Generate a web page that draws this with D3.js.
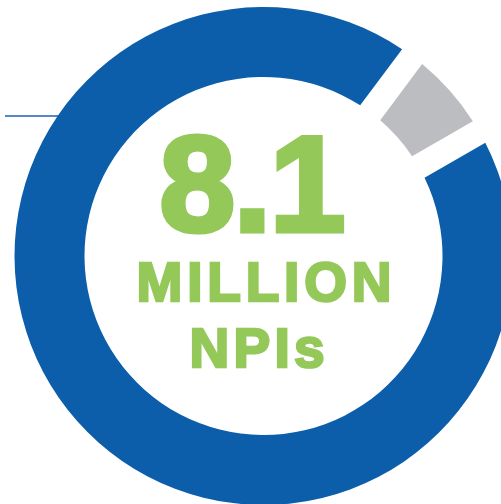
<!DOCTYPE html>
<html>
<head>
<meta charset="utf-8">
<script src="https://cdn.jsdelivr.net/npm/d3@7"></script>
<style>
  html, body { margin: 0; padding: 0; background: #fff; overflow: hidden; }
  svg { display: block; }
</style>
</head>
<body>
<div id="chart"></div>
<script>
// donut slices (share of ring, percent)
const categories = ["Other", "NPIs"];
const values = [6.5, 93.5];
const colors = ["#bcbdc0", "#0c5eab"];

// center labels
const bigNumber = "8.1";
const labelLines = ["MILLION", "NPIs"];

const width = 501;
const height = 504;
const cx = 263.5;
const cy = 256;
const outerR = 249;
const innerR = 179;
const green = "#94c858";

const svg = d3.select("#chart")
  .append("svg")
  .attr("width", width)
  .attr("height", height);

// little leader line on the left
svg.append("line")
  .attr("x1", 5)
  .attr("x2", 62)
  .attr("y1", 116)
  .attr("y2", 116)
  .attr("stroke", "#1d63b5")
  .attr("stroke-width", 1.6);

const start = 36.7 * Math.PI / 180;
const pie = d3.pie()
  .sort(null)
  .value(d => d)
  .startAngle(start)
  .endAngle(start + 2 * Math.PI);

const arc = d3.arc()
  .innerRadius(innerR)
  .outerRadius(outerR)
  .padRadius(306)
  .padAngle(25 / 306);

const g = svg.append("g")
  .attr("transform", `translate(${cx},${cy})`);

g.selectAll("path")
  .data(pie(values))
  .enter()
  .append("path")
  .attr("d", arc)
  .attr("fill", (d, i) => colors[i]);

// texts
svg.append("text")
  .attr("x", 252.5)
  .attr("y", 231)
  .attr("text-anchor", "middle")
  .attr("font-family", "Liberation Sans, Arial, sans-serif")
  .attr("font-weight", "bold")
  .attr("font-size", 136)
  .attr("fill", green)
  .attr("stroke", green)
  .attr("stroke-width", 5)
  .attr("stroke-linejoin", "miter")
  .attr("textLength", 186)
  .attr("lengthAdjust", "spacing")
  .text(bigNumber);

const lineY = [301, 367];
const lineX = [264, 257];
const lineW = [255, 135];

svg.selectAll(".lbl")
  .data(labelLines)
  .enter()
  .append("text")
  .attr("class", "lbl")
  .attr("x", (d, i) => lineX[i])
  .attr("y", (d, i) => lineY[i])
  .attr("text-anchor", "middle")
  .attr("font-family", "Liberation Sans, Arial, sans-serif")
  .attr("font-weight", "bold")
  .attr("font-size", 55)
  .attr("fill", green)
  .attr("stroke", green)
  .attr("stroke-width", 2.5)
  .attr("textLength", (d, i) => lineW[i])
  .attr("lengthAdjust", "spacing")
  .text(d => d);
</script>
</body>
</html>
